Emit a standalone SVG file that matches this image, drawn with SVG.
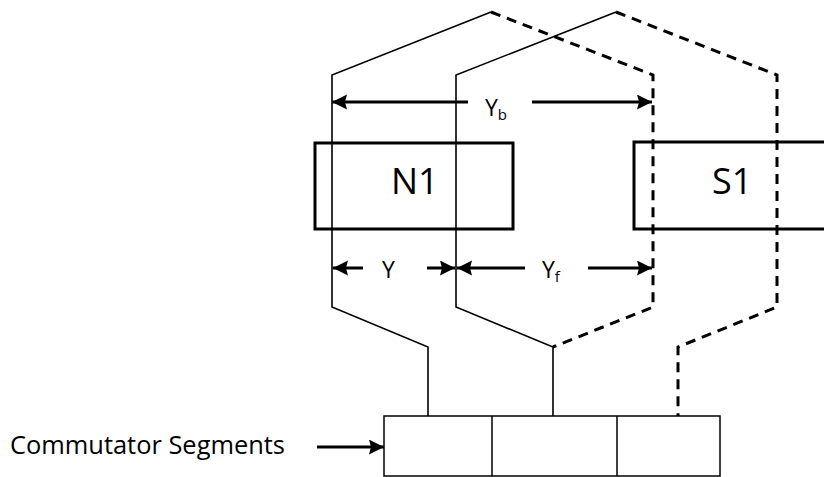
<svg xmlns="http://www.w3.org/2000/svg" width="824" height="477" viewBox="0 0 824 477">
<style>
.pole{fill:none;stroke:#000;stroke-width:3}
.seg{fill:none;stroke:#000;stroke-width:1.5}
.solid{fill:none;stroke:#000;stroke-width:1.6;stroke-linejoin:miter}
.dash{fill:none;stroke:#000;stroke-width:3;stroke-dasharray:10,7;stroke-linejoin:miter}
.arr{fill:none;stroke:#000;stroke-width:3;marker-end:url(#ah)}
.lbl{font-family:"Open Sans","Liberation Sans",sans-serif;fill:#000}
</style>
<defs>
<marker id="ah" markerUnits="userSpaceOnUse" markerWidth="16" markerHeight="16" refX="15" refY="7.5" orient="auto">
<path d="M0,0 L15,7.5 L0,15 L2,7.5 z" fill="#000"/>
</marker>
</defs>
<rect width="824" height="477" fill="#fff"/>
<g id="N1">
<rect class="pole" x="315" y="143" width="198" height="86"/>
<text class="lbl" x="391" y="194" font-size="36">N1</text>
</g>
<g id="S1">
<rect class="pole" x="634" y="142" width="210" height="87"/>
<text class="lbl" x="712" y="194" font-size="36">S1</text>
</g>
<g id="commutator">
<rect class="seg" x="384" y="416" width="336" height="60"/>
<line class="seg" x1="492" y1="416" x2="492" y2="476"/>
<line class="seg" x1="617" y1="416" x2="617" y2="476"/>
</g>
<g id="label">
<text class="lbl" x="10" y="454" font-size="25" textLength="275" lengthAdjust="spacingAndGlyphs">Commutator Segments</text>
</g>
<g id="connectors">
<path class="solid" d="M428,416 L428,347 L332,307 L332,75 L491,12"/>
<path class="dash" d="M491,12 L653,75 L653,307 L553,347"/>
<path class="solid" d="M553,416 L553,347 L456,307 L456,75 L616,12"/>
<path class="dash" d="M616,12 L777,75 L777,307 L678,347 L678,416"/>
<line class="arr" x1="468" y1="102" x2="332" y2="102"/>
<line class="arr" x1="532" y1="102" x2="652" y2="102"/>
<line class="arr" x1="363" y1="268" x2="333" y2="268"/>
<line class="arr" x1="427" y1="268" x2="455" y2="268"/>
<line class="arr" x1="525" y1="268" x2="457" y2="268"/>
<line class="arr" x1="588" y1="268" x2="652" y2="268"/>
<line class="arr" x1="317" y1="447" x2="384" y2="447"/>
</g>
<g id="dimension-labels">
<text class="lbl" x="485" y="116" font-size="23">Y<tspan font-size="15" dy="4">b</tspan></text>
<text class="lbl" x="382" y="278" font-size="23">Y</text>
<text class="lbl" x="542" y="278" font-size="23">Y<tspan font-size="15" dy="4">f</tspan></text>
</g>
</svg>
